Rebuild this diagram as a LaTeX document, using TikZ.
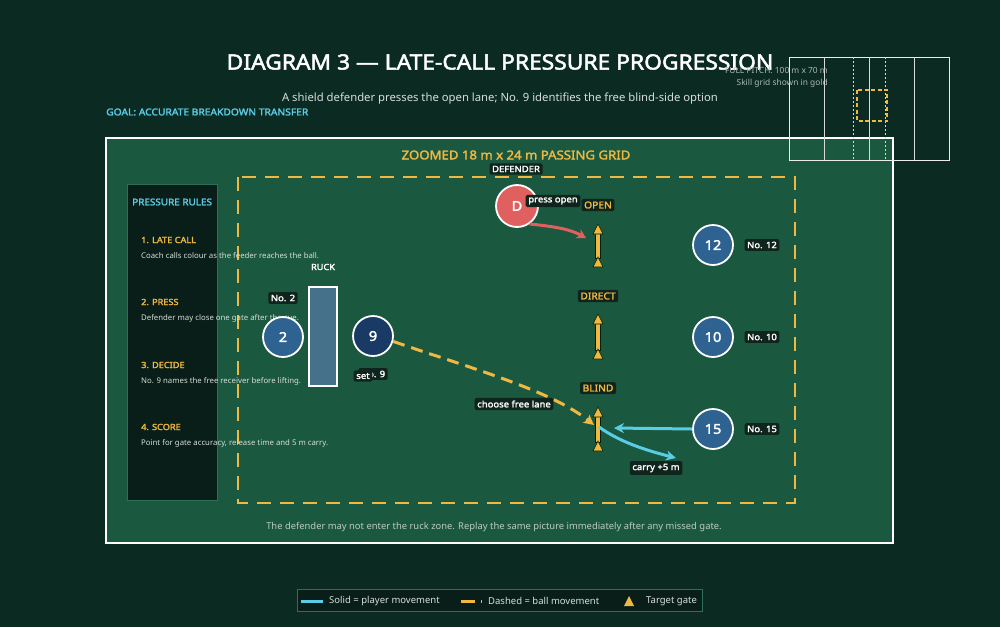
\documentclass[tikz,border=0pt]{standalone}
\usepackage{fontspec}
\setmainfont{Noto Sans}
\newfontfamily\boldfam{Noto Sans}[FakeBold=2.2,FakeStretch=1.08]
\usetikzlibrary{arrows.meta,calc}
\definecolor{bgc}{RGB}{11,42,34}
\definecolor{fieldc}{RGB}{27,88,64}
\definecolor{panelc}{RGB}{9,30,24}
\definecolor{panelb}{RGB}{48,110,88}
\definecolor{goldc}{RGB}{240,184,64}
\definecolor{cyanc}{RGB}{90,205,230}
\definecolor{playerc}{RGB}{45,98,145}
\definecolor{ninec}{RGB}{24,58,100}
\definecolor{redc}{RGB}{224,96,96}
\definecolor{ruckc}{RGB}{70,113,138}
\definecolor{tagc}{RGB}{14,36,28}
\definecolor{lightc}{RGB}{214,222,218}
\definecolor{greyc}{RGB}{170,184,178}
\newcommand{\fs}[1]{\fontsize{#1}{#1}\selectfont}
\tikzset{
  player/.style={circle,draw=white,line width=1.8pt,minimum size=40pt,inner sep=0pt,fill=playerc,text=white,font=\boldfam\fs{13.5}},
  tag/.style={fill=tagc,rounded corners=1.5pt,inner sep=2.6pt,text=white,font=\boldfam\fs{8.8}},
  gatetag/.style={tag,text=goldc,font=\boldfam\fs{9.5}},
  rulehead/.style={anchor=west,text=goldc,font=\boldfam\fs{8.5},inner sep=0pt},
  ruletext/.style={anchor=west,text=lightc,font=\fs{7.8},inner sep=0pt},
  gatepart/.style={fill=goldc,draw=black!70!green!40!black,line width=0.6pt},
  ballpath/.style={goldc,line width=3pt,dash pattern=on 12pt off 7pt},
  runpath/.style={cyanc,line width=3pt},
}
\begin{document}
\begin{tikzpicture}[x=1pt,y=-1pt]
\useasboundingbox (0,0) rectangle (1000,627);
\fill[bgc] (0,0) rectangle (1000,627);
% main frame
\draw[white,line width=2.5pt,fill=fieldc] (106,138) rectangle (893,543);
% mini pitch
\draw[white!85!gray,line width=0.8pt] (789,57) rectangle (949,160);
\foreach \x in {824,869,914} \draw[white!70!gray,line width=0.8pt] (\x,57) -- (\x,160);
\foreach \x in {853,885} \draw[white!70!gray,line width=0.7pt,dash pattern=on 2pt off 2pt] (\x,57) -- (\x,160);
\draw[goldc,line width=1.2pt,dash pattern=on 4pt off 2.5pt] (857,90) rectangle (887,121);
% titles
\node[text=white,font=\boldfam\fs{21.1},inner sep=0pt] (title) at (500,62) {DIAGRAM 3 — LATE-CALL PRESSURE PROGRESSION};
\node[anchor=east,text=greyc,font=\fs{8.4},inner sep=0pt] (fp) at (828,71) {FULL PITCH: 100 m x 70 m};
\node[anchor=east,text=greyc,font=\fs{8.4},inner sep=0pt] (sg) at (828,83) {Skill grid shown in gold};
\node[text=lightc,font=\fs{11.3},inner sep=0pt] (sub) at (500,99) {A shield defender presses the open lane; No. 9 identifies the free blind-side option};
\node[anchor=west,text=cyanc,font=\boldfam\fs{9.5},inner sep=0pt] (goal) at (106,112) {GOAL: ACCURATE BREAKDOWN TRANSFER};
\node[text=goldc,font=\boldfam\fs{12.2},inner sep=0pt] (zoomed) at (516,155) {ZOOMED 18 m x 24 m PASSING GRID};
% grid
\draw[goldc,line width=2.8pt,dash pattern=on 14pt off 9pt] (238,177) rectangle (795,503);
% left panel
\draw[panelb,line width=0.8pt,fill=panelc] (127,184) rectangle (217,500);
\node[anchor=west,text=cyanc,font=\boldfam\fs{9.2},inner sep=0pt] (pr) at (132,202) {PRESSURE RULES};
\node[rulehead] (r1) at (141,240) {1. LATE CALL};
\node[ruletext] (t1) at (141,256) {Coach calls colour as the feeder reaches the ball.};
\node[rulehead] (r2) at (141,302) {2. PRESS};
\node[ruletext] (t2) at (141,318) {Defender may close one gate after the cue.};
\node[rulehead] (r3) at (141,365) {3. DECIDE};
\node[ruletext] (t3) at (141,381) {No. 9 names the free receiver before lifting.};
\node[rulehead] (r4) at (141,427) {4. SCORE};
\node[ruletext] (t4) at (141,443) {Point for gate accuracy, release time and 5 m carry.};
% ruck
\draw[white,line width=1.3pt,fill=ruckc] (309,287) rectangle (337,386);
\node[text=white,font=\boldfam\fs{8.5},inner sep=0pt] (ruck) at (323,267) {RUCK};
% gates
\foreach \t/\b/\n in {224/267/O,314/359/M,407/451/B}{
  \draw[gatepart] (595.5,\t+9) rectangle (600.5,\b-9);
  \draw[gatepart] (598,\t) -- (603,\t+10) -- (593,\t+10) -- cycle;
  \draw[gatepart] (598,\b-10) -- (603,\b) -- (593,\b) -- cycle;
}
\coordinate (gO) at (586,238);
\coordinate (gB) at (594,425);
\coordinate (gBr) at (614,428);
\coordinate (gBs) at (599,427);
\coordinate (carry) at (676,458);
\node[gatetag] (open) at (598,205) {OPEN};
\node[gatetag] (direct) at (598,296) {DIRECT};
\node[gatetag] (blind) at (598,388) {BLIND};
% players
\node[player] (p2) at (283,337) {2};
\node[player,fill=ninec] (p9) at (373,336) {9};
\node[player,fill=redc,minimum size=42pt] (pd) at (517,206) {D};
\node[player] (p12) at (713,245) {12};
\node[player] (p10) at (713,337) {10};
\node[player] (p15) at (713,429) {15};
% paths
\draw[redc,line width=3pt,-{Stealth[length=9pt,width=10pt]}] (pd.-55) .. controls (548,226) and (568,228) .. (gO);
\draw[ballpath,-{Stealth[length=10pt,width=10pt,inset=2pt]}] (p9.-15) .. controls (470,368) and (550,390) .. (gB);
\draw[runpath,-{Stealth[length=10pt,width=10pt]}] (p15.west) -- (gBr);
\draw[runpath,-{Stealth[length=10pt,width=10pt]}] (gBs) .. controls (620,442) and (645,450) .. (carry);
% tags
\node[tag] (tdef) at (516,169) {DEFENDER};
\node[tag] (tpress) at (553,201) {press open};
\node[tag] (t2n) at (283,298) {No. 2};
\node[tag] (t9n) at (373,374) {No. 9};
\node[tag] (tset) at (363,376) {set};
\node[tag] (tchoose) at (514,404) {choose free lane};
\node[tag] (tcarry) at (656,468) {carry +5 m};
\node[tag] (t12) at (762,245) {No. 12};
\node[tag] (t10) at (762,337) {No. 10};
\node[tag] (t15) at (762,429) {No. 15};
% bottom note
\node[text=lightc!85!fieldc,font=\fs{9.4},inner sep=0pt] (note) at (494,527) {The defender may not enter the ruck zone. Replay the same picture immediately after any missed gate.};
% legend
\draw[panelb,line width=0.8pt,fill=panelc] (297,589) rectangle (702,611);
\coordinate (l1a) at (301,601); \coordinate (l1b) at (323,601);
\draw[cyanc,line width=3pt] (l1a) -- (l1b);
\node[anchor=west,text=lightc,font=\fs{9.5},inner sep=0pt] (leg1) at (329,601) {Solid = player movement};
\coordinate (l2a) at (461,601); \coordinate (l2b) at (475,601);
\draw[goldc,line width=3pt] (l2a) -- (l2b);
\fill[goldc] (480.5,599.5) rectangle (481.5,602.5);
\node[anchor=west,text=lightc,font=\fs{9.5},inner sep=0pt] (leg2) at (488,601) {Dashed = ball movement};
\fill[goldc] (629,596) -- (634,606) -- (624,606) -- cycle;
\node[anchor=west,text=lightc,font=\fs{9.5},inner sep=0pt] (leg3) at (646,601) {Target gate};
\end{tikzpicture}
\end{document}
